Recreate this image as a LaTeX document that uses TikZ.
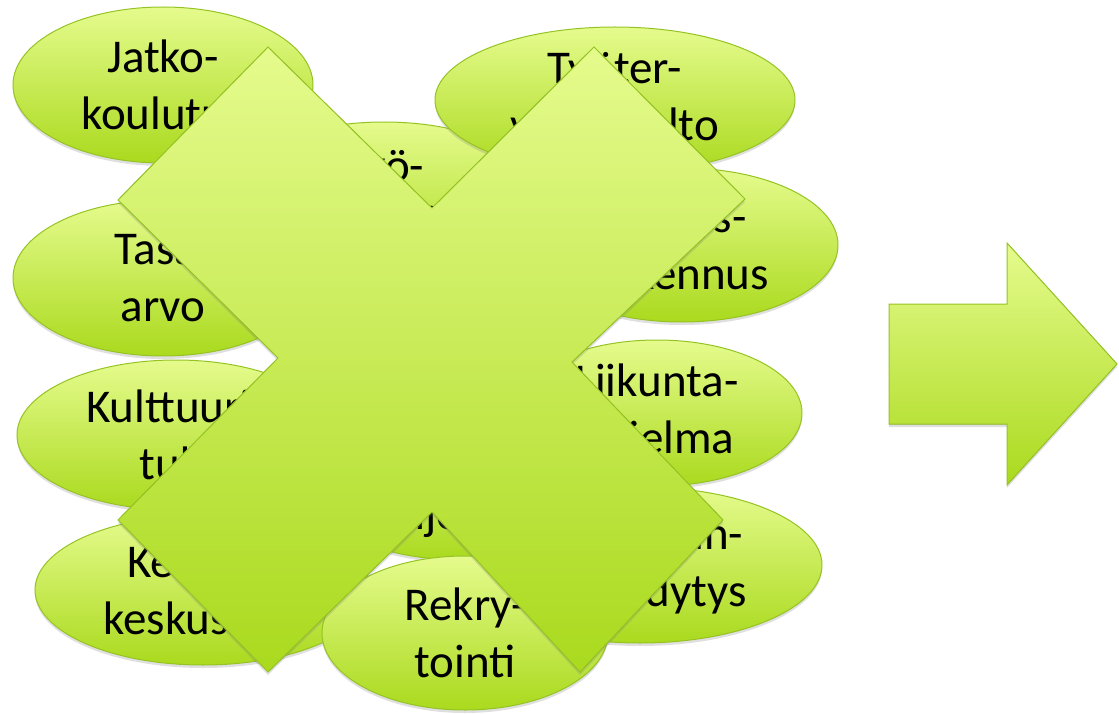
\documentclass[tikz,border=0pt]{standalone}
\usepackage{fontspec}
\setmainfont{Carlito}
\usepackage{tikz}
\usetikzlibrary{shapes.geometric}
\usetikzlibrary{shadows}
\definecolor{limetop}{RGB}{229,251,141}
\definecolor{limebot}{RGB}{170,218,30}
\definecolor{limeline}{RGB}{150,195,36}
\tikzstyle{bubble} = [ellipse,draw=limeline,line width=1pt,top color=limetop,bottom color=limebot,inner sep=0pt,align=center,font=\fontsize{47}{57}\selectfont,drop shadow={shadow xshift=0pt,shadow yshift=-3pt,opacity=0.25}]
\tikzstyle{bigshape} = [draw=limeline,line width=1pt,top color=limetop,bottom color=limebot,drop shadow={shadow xshift=0pt,shadow yshift=-3pt,opacity=0.25}]

\begin{document}
\begin{tikzpicture}[x=1pt,y=-1pt]
\useasboundingbox (0,0) rectangle (1119,714);

% Draw bubbles, back to front

    \node[bubble,minimum width=300,minimum height=156] at (163,85) (jatko) {Jatko-\\koulutus};
    \node[bubble,minimum width=300,minimum height=156] at (163,278) (tasa) {Tasa-\\arvo};
    \node[bubble,minimum width=318,minimum height=150] at (176,435) (kult) {Kulttuuri-\\tuki};
    \node[bubble,minimum width=336,minimum height=150] at (203,590) (kehi) {Kehitys-\\keskustelu};
    \node[bubble,minimum width=320,minimum height=152] at (384,198) (tyo) {Työ-\\hyvinvointi};
    \node[bubble,minimum width=312,minimum height=154] at (682,245) (yht) {Yhteis-\\rakennus};
    \node[bubble,minimum width=360,minimum height=146] at (615,100) (tyoter) {Työter-\\veyshuolto};
    \node[bubble,minimum width=290,minimum height=146] at (657,413) (liik) {Liikunta-\\ohjelma};
    \node[bubble,minimum width=364,minimum height=156] at (640,565) (pere) {Työpaikan-\\perehdytys};
    \node[bubble,minimum width=300,minimum height=140] at (462,490) (ohje) {Turva-\\ohjeistus};
    \node[bubble,minimum width=286,minimum height=154] at (465,633) (rekry) {Rekry-\\tointi};

% The cross over the bubbles

    \filldraw[bigshape] (268,47) -- (432,208) -- (594,47) -- (745,199) -- (572,362)
        -- (723,520) -- (580,672) -- (432,512) -- (268,672) -- (118,520)
        -- (278,358) -- (118,200) -- cycle;

% Block arrow on the right

    \filldraw[bigshape] (889,304) -- (1007,304) -- (1007,243) -- (1117,364)
        -- (1007,485) -- (1007,424) -- (889,424) -- cycle;

\end{tikzpicture}
\end{document}
